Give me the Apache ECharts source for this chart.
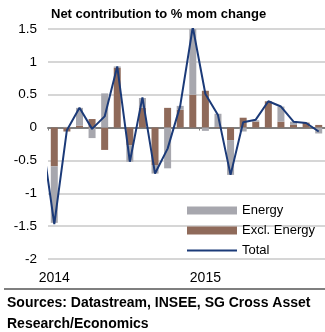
<!DOCTYPE html>
<html>
<head>
<meta charset="utf-8">
<script src="https://cdn.jsdelivr.net/npm/echarts@6/dist/echarts.min.js"></script>
<style>
html,body{margin:0;padding:0;background:#fff;}
#c{width:325px;height:332px;}
</style>
</head>
<body>
<div id="c"></div>
<script>
// Line months: index 0 = Jan 2014; index -1 = Dec 2013 (only its line end is visible)
const monthIndex = [-1,0,1,2,3,4,5,6,7,8,9,10,11,12,13,14,15,16,17,18,19,20,21];
const total      = [-0.12,-1.47,-0.04,0.30,-0.02,0.17,0.93,-0.52,0.46,-0.70,-0.32,0.33,1.53,0.51,0.19,-0.72,0.08,0.12,0.40,0.32,0.09,0.07,-0.06];
// Bar months: Jan 2014 .. Oct 2015
const barMonths  = ['2014-01','2014-02','2014-03','2014-04','2014-05','2014-06','2014-07','2014-08','2014-09','2014-10','2014-11','2014-12',
                    '2015-01','2015-02','2015-03','2015-04','2015-05','2015-06','2015-07','2015-08','2015-09','2015-10'];
const energy     = [-0.86,0.01,0.27,-0.16,0.52,0.02,-0.25,0.15,-0.13,-0.62,0.06,1.03,-0.05,0.20,-0.53,-0.06,0.02,0.00,0.23,0.05,0.01,-0.09];
const exclEnergy = [-0.59,-0.06,0.03,0.13,-0.34,0.91,-0.27,0.30,-0.57,0.30,0.27,0.50,0.56,0.01,-0.19,0.15,0.09,0.40,0.09,0.04,0.07,0.04];
const yearTickPositions = [-0.5, 11.5];
const yearLabelPositions = [0, 12];
const yearLabels = ['2014', '2015'];

const FONT = '"Liberation Sans", Arial, sans-serif';
const linePairs = monthIndex.map((m, i) => [m, total[i]]);

const chart = echarts.init(document.getElementById('c'), null, {renderer: 'canvas'});
chart.setOption({
  animation: false,
  backgroundColor: '#fff',
  title: {
    text: 'Net contribution to % mom change',
    left: 46, top: 3,
    textStyle: {fontFamily: FONT, fontSize: 13, fontWeight: 'bold', color: '#000'}
  },
  grid: {left: 48, top: 29, width: 278, height: 230},
  legend: {
    orient: 'vertical',
    left: 182, top: 199,
    itemWidth: 50, itemHeight: 8, itemGap: 7,
    textStyle: {fontFamily: FONT, fontSize: 13, color: '#000'},
    data: [
      {name: 'Energy', icon: 'rect'},
      {name: 'Excl. Energy', icon: 'rect'},
      {name: 'Total', icon: 'path://M0,0h0.01v0.01h-0.01z M0,3.1h50v1.8h-50z M0,7.99h0.01v0.01h-0.01z'}
    ]
  },
  xAxis: [
    {
      type: 'value', min: -0.5, max: 21.5,
      axisLine: {show: true, onZero: true, lineStyle: {color: '#7f7f7f', width: 2}},
      axisTick: {show: true, customValues: yearTickPositions, length: 3, lineStyle: {color: '#7f7f7f', width: 1}},
      axisLabel: {show: false},
      splitLine: {show: false}
    },
    {
      type: 'value', min: -0.5, max: 21.5, position: 'bottom',
      axisLine: {show: false, onZero: false},
      axisTick: {show: false},
      splitLine: {show: false},
      axisLabel: {
        show: true, customValues: yearLabelPositions, margin: 12,
        fontFamily: FONT, fontSize: 14, color: '#000',
        formatter: v => yearLabels[yearLabelPositions.indexOf(v)]
      }
    },
    {
      type: 'category', data: barMonths, boundaryGap: true, show: false,
      axisLine: {onZero: false}
    }
  ],
  yAxis: {
    type: 'value', min: -2, max: 1.5, interval: 0.5,
    axisLine: {show: false}, axisTick: {show: false},
    axisLabel: {fontFamily: FONT, fontSize: 13.5, color: '#000', margin: 11},
    splitLine: {lineStyle: {color: '#d6d6d6', width: 2}}
  },
  series: [
    {
      name: 'Excl. Energy', type: 'bar', stack: 's', xAxisIndex: 2,
      barWidth: 7, data: exclEnergy,
      itemStyle: {color: '#8f6a5a'}
    },
    {
      name: 'Energy', type: 'bar', stack: 's', xAxisIndex: 2,
      barWidth: 7, data: energy,
      itemStyle: {color: '#a7a7ae'}
    },
    {
      name: 'Total', type: 'line', xAxisIndex: 0,
      symbol: 'none', data: linePairs, clip: true,
      lineStyle: {color: '#1b3a78', width: 2},
      itemStyle: {color: '#1b3a78'}
    }
  ],
  graphic: [
    {type: 'line', shape: {x1: 4, y1: 289, x2: 325, y2: 289}, style: {stroke: '#7f7f7f', lineWidth: 2}},
    {type: 'text', left: 7, top: 296, style: {text: 'Sources: Datastream, INSEE, SG Cross Asset', font: 'bold 14px "Liberation Sans", Arial, sans-serif', fill: '#000'}},
    {type: 'text', left: 7, top: 317, style: {text: 'Research/Economics', font: 'bold 14px "Liberation Sans", Arial, sans-serif', fill: '#000'}}
  ]
});
</script>
</body>
</html>
